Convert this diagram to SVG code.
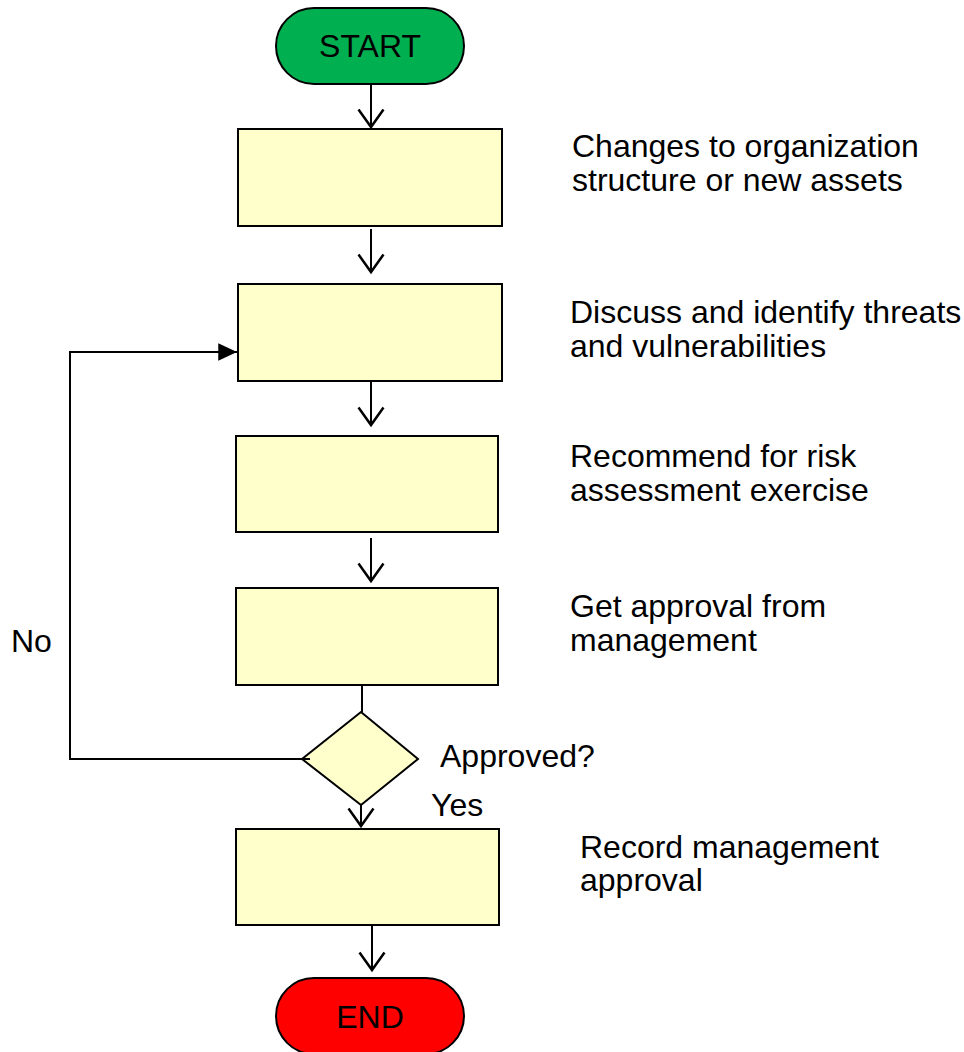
<svg xmlns="http://www.w3.org/2000/svg" width="964" height="1052" viewBox="0 0 964 1052">
  <defs>
    <style>
      .box { fill: #FFFFCC; stroke: #000; stroke-width: 2; }
      .term { stroke: #000; stroke-width: 2; }
      .lbl { font-family: "Liberation Sans", Arial, sans-serif; font-size: 32px; fill: #000; }
      .sm { font-size: 31px; }
      .ctr { text-anchor: middle; }
      .conn { fill: none; stroke: #000; stroke-width: 2; }
    </style>
    <marker id="vhead" markerUnits="userSpaceOnUse" markerWidth="30" markerHeight="30" viewBox="-2 -12 20 24" refX="14" refY="0" orient="auto">
      <path d="M0,-10 L14,0 L0,10" fill="none" stroke="#000" stroke-width="2"/>
    </marker>
    <marker id="fhead" markerUnits="userSpaceOnUse" markerWidth="20" markerHeight="20" viewBox="0 -8 16 16" refX="15" refY="0" orient="auto">
      <path d="M0,-7 L15,0 L0,7 Z" fill="#000"/>
    </marker>
  </defs>
  <rect width="964" height="1052" fill="#fff"/>

  <g id="start">
    <rect class="term" x="276" y="8" width="188" height="76" rx="38" ry="38" fill="#00B050"/>
    <text class="lbl ctr" x="370" y="57">START</text>
  </g>
  <g id="step1">
    <rect class="box" x="238" y="129" width="264" height="97"/>
    <text class="lbl" x="572" y="157">Changes to organization</text>
    <text class="lbl" x="572" y="191">structure or new assets</text>
  </g>
  <g id="step2">
    <rect class="box" x="238" y="284" width="264" height="97"/>
    <text class="lbl" x="570" y="323">Discuss and identify threats</text>
    <text class="lbl" x="570" y="357">and vulnerabilities</text>
  </g>
  <g id="step3">
    <rect class="box" x="236" y="436" width="262" height="96"/>
    <text class="lbl" x="570" y="467">Recommend for risk</text>
    <text class="lbl" x="570" y="501">assessment exercise</text>
  </g>
  <g id="step4">
    <rect class="box" x="236" y="588" width="262" height="97"/>
    <text class="lbl" x="570" y="617">Get approval from</text>
    <text class="lbl" x="570" y="651">management</text>
  </g>
  <g id="decision">
    <polygon class="box" points="361,712 418,759 361,805 302,759"/>
    <text class="lbl" x="440" y="767">Approved?</text>
  </g>
  <g id="step5">
    <rect class="box" x="236" y="829" width="263" height="96"/>
    <text class="lbl" x="580" y="858">Record management</text>
    <text class="lbl" x="580" y="891">approval</text>
  </g>
  <g id="end">
    <rect class="term" x="276" y="978" width="188" height="76" rx="38" ry="38" fill="#FF0000"/>
    <text class="lbl ctr" x="370" y="1028">END</text>
  </g>

  <g id="connectors">
    <line class="conn" x1="371" y1="84" x2="371" y2="127" marker-end="url(#vhead)"/>
    <line class="conn" x1="371" y1="229" x2="371" y2="272" marker-end="url(#vhead)"/>
    <line class="conn" x1="371" y1="381" x2="371" y2="425" marker-end="url(#vhead)"/>
    <line class="conn" x1="371" y1="538" x2="371" y2="581" marker-end="url(#vhead)"/>
    <line class="conn" x1="362" y1="685" x2="362" y2="712"/>
    <line class="conn" x1="361" y1="805" x2="361" y2="826" marker-end="url(#vhead)"/>
    <line class="conn" x1="372" y1="925" x2="372" y2="970" marker-end="url(#vhead)"/>
    <polyline class="conn" points="310,759 70,759 70,352 237,352" marker-end="url(#fhead)"/>
    <text class="lbl" x="431" y="816">Yes</text>
    <text class="lbl" x="11" y="652">No</text>
  </g>
</svg>
